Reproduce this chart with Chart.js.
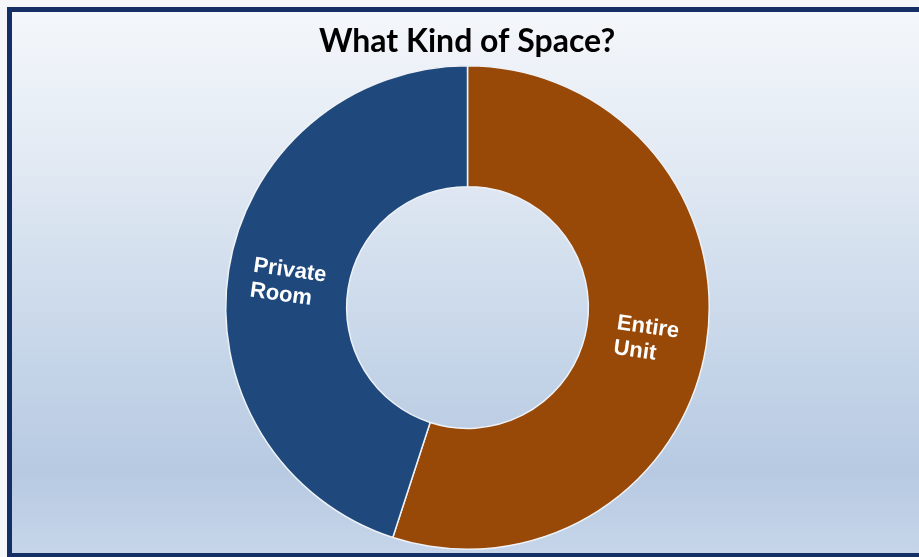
<!DOCTYPE html>
<html>
<head>
<meta charset="utf-8">
<script src="https://cdn.jsdelivr.net/npm/chart.js@4"></script>
<style>
  html, body { margin: 0; padding: 0; background: #f4f6f9; }
  #wrap { width: 919px; height: 557px; position: relative; }
</style>
</head>
<body>
<div id="wrap"><canvas id="chart" width="919" height="557"></canvas></div>
<script>
const titulo = 'What Kind of Space?';
const categorias = [['Entire', 'Unit'], ['Private', 'Room']];
const valores = [55, 45];
const cores = ['#984807', '#1F497D'];

// fundo com gradiente e moldura azul escura
const fundoPlugin = {
    id: 'fundo',
    beforeDraw(chart) {
        const c = chart.ctx;
        c.save();
        c.fillStyle = '#f4f6f9';
        c.fillRect(0, 0, chart.width, chart.height);
        const g = c.createLinearGradient(0, 12, 0, 553);
        g.addColorStop(0, '#F4F7FB');
        g.addColorStop(0.25, '#E4EBF4');
        g.addColorStop(0.55, '#CCDAEB');
        g.addColorStop(0.85, '#B7CAE2');
        g.addColorStop(1, '#C6D5E9');
        c.fillStyle = g;
        c.fillRect(12, 12, chart.width, 541);
        c.strokeStyle = '#142F66';
        c.lineWidth = 5;
        c.strokeRect(9.5, 9.5, chart.width + 20, 546);
        c.restore();
    },
    afterDraw(chart) {
        const c = chart.ctx;
        c.save();
        c.fillStyle = '#000';
        c.font = 'bold 32px Lato';
        c.textAlign = 'center';
        c.textBaseline = 'alphabetic';
        c.fillText(titulo, 467, 52);

        // rótulos dentro das fatias, alinhados à esquerda
        const arcs = chart.getDatasetMeta(0).data;
        c.fillStyle = '#fff';
        c.font = 'bold 22px "Liberation Sans"';
        c.textAlign = 'left';
        arcs.forEach((arc, i) => {
            const p = arc.tooltipPosition();
            const linhas = categorias[i];
            const larg = Math.max(...linhas.map(t => c.measureText(t).width));
            c.save();
            c.translate(p.x, p.y + 2);
            c.rotate(0.14);
            linhas.forEach((t, j) => {
                c.fillText(t, -larg / 2, (j - (linhas.length - 1) / 2) * 25 + 8);
            });
            c.restore();
        });
        c.restore();
    }
};

new Chart(document.getElementById('chart'), {
    type: 'doughnut',
    data: {
        labels: categorias.map(l => l.join(' ')),
        datasets: [{
            data: valores,
            backgroundColor: cores,
            borderColor: '#EEF2F7',
            borderWidth: 1.5
        }]
    },
    options: {
        responsive: false,
        animation: false,
        cutout: '50%',
        layout: { padding: { top: 65, bottom: 7, left: 16, right: 0 } },
        plugins: {
            legend: { display: false },
            tooltip: { enabled: false },
            title: { display: false }
        }
    },
    plugins: [fundoPlugin]
});
</script>
</body>
</html>
